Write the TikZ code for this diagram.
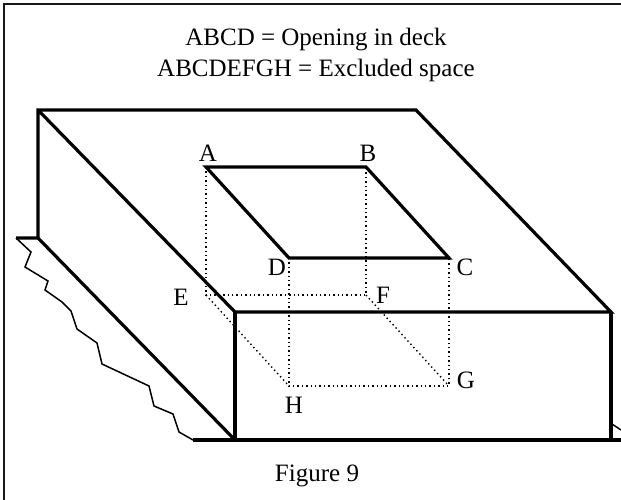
\documentclass[tikz,border=0pt]{standalone}
\usepackage{fontspec}
\setmainfont{Liberation Serif}
\tikzset{
  heavy/.style={line width=3.2pt,line join=miter},
  thinline/.style={line width=1.5pt,line join=miter},
  framing/.style={line width=2.2pt,black!90},
  hidden/.style={line width=1.4pt,dash pattern=on 1.4pt off 3pt},
  lab/.style={font=\fontsize{25pt}{29pt}\selectfont,inner sep=0pt,anchor=base},
}
\begin{document}
\begin{tikzpicture}[x=1pt,y=-1pt]
\useasboundingbox (0,0) rectangle (621,500);
\coordinate (FL) at (4,500); \coordinate (FT) at (4,4); \coordinate (FR) at (621,4);
\coordinate (P) at (38,110); \coordinate (Q) at (416,110); \coordinate (R) at (611,312);
\coordinate (S) at (235,312); \coordinate (T) at (38,238); \coordinate (U) at (235,440);
\coordinate (V) at (16,238); \coordinate (W) at (193,440); \coordinate (X) at (621,440);
\coordinate (Y) at (611,440); \coordinate (Z1) at (612,424); \coordinate (Z2) at (621,430);
\coordinate (a) at (206,167); \coordinate (b) at (366,167);
\coordinate (c) at (449,258); \coordinate (d) at (289,258);
\coordinate (e) at (206,295); \coordinate (f) at (366,295);
\coordinate (g) at (449,386); \coordinate (h) at (289,386);
\draw[framing] (FL) -- (FT) -- (FR);
\draw[hidden] (a) -- (e) -- (f) -- (b);
\draw[hidden] (d) -- (h) -- (g) -- (c);
\draw[hidden] (e) -- (h);
\draw[hidden] (f) -- (g);
\draw[heavy] (T) -- (P) -- (Q) -- (R) -- (S) -- (P);
\draw[heavy] (V) -- (T) -- (U);
\draw[heavy] (S) -- (U);
\draw[heavy] (R) -- (Y);
\draw[heavy] (W) -- (X);
\draw[heavy] (a) -- (b) -- (c) -- (d) -- cycle;
\draw[thinline] (V) -- (31,252) -- (25,267) -- (48,281) -- (45,290) -- (62,302) -- (71,311) -- (77,329) -- (97,343) -- (102,364) -- (149,386) -- (154,406) -- (173,414) -- (179,432) -- (W);
\draw[thinline] (Z1) -- (Z2);
\node[lab] (t1) at (316,46) {ABCD = Opening in deck};
\node[lab] (t2) at (316,77) {ABCDEFGH = Excluded space};
\node[lab] (la) at (208,161) {A};
\node[lab] (lb) at (368,161) {B};
\node[lab] (lc) at (465,275) {C};
\node[lab] (ld) at (277,275) {D};
\node[lab] (le) at (181,305) {E};
\node[lab] (lf) at (383,303) {F};
\node[lab] (lg) at (466,388) {G};
\node[lab] (lh) at (294,413) {H};
\node[lab] (cap) at (317,481) {Figure 9};
\end{tikzpicture}
\end{document}
